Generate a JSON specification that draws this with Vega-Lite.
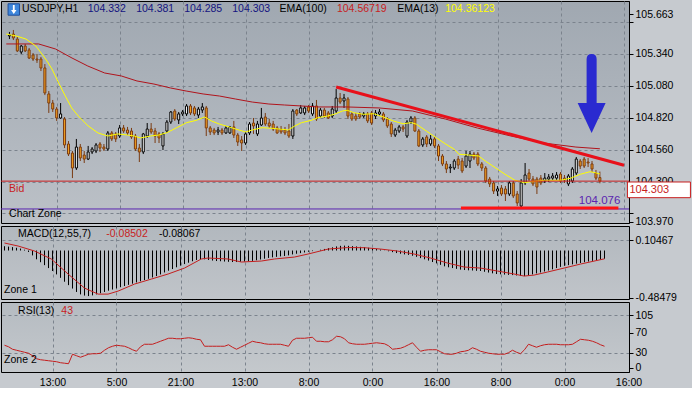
{
"$schema": "https://vega.github.io/schema/vega-lite/v6.json",
"background": "#c6cacf",
"padding": 0,
"spacing": 3,
"bounds": "flush",
"config": {
  "font": "Liberation Sans",
  "axis": {"labelFont": "Liberation Sans", "labelFontSize": 10.5, "labelColor": "#000000", "domainColor": "#000000", "tickColor": "#000000"},
  "text": {"font": "Liberation Sans", "fontSize": 10.5}
},
"datasets": {
"bars": [
{"i":0,"open":105.487,"high":105.520,"low":105.462,"close":105.495,"macd":0.044,"rsi":45},
{"i":1,"open":105.503,"high":105.536,"low":105.454,"close":105.471,"macd":0.040,"rsi":42},
{"i":2,"open":105.462,"high":105.479,"low":105.356,"close":105.365,"macd":0.035,"rsi":37},
{"i":3,"open":105.356,"high":105.413,"low":105.340,"close":105.405,"macd":0.028,"rsi":35},
{"i":4,"open":105.405,"high":105.422,"low":105.356,"close":105.365,"macd":0.020,"rsi":33},
{"i":5,"open":105.373,"high":105.389,"low":105.299,"close":105.307,"macd":0.008,"rsi":31},
{"i":6,"open":105.332,"high":105.348,"low":105.283,"close":105.299,"macd":-0.015,"rsi":29},
{"i":7,"open":105.299,"high":105.340,"low":105.267,"close":105.291,"macd":-0.05,"rsi":24},
{"i":8,"open":105.299,"high":105.316,"low":105.201,"close":105.226,"macd":-0.09,"rsi":18},
{"i":9,"open":105.226,"high":105.258,"low":105.005,"close":105.022,"macd":-0.12,"rsi":16},
{"i":10,"open":105.014,"high":105.038,"low":104.859,"close":104.940,"macd":-0.15,"rsi":15},
{"i":11,"open":104.940,"high":104.965,"low":104.867,"close":104.891,"macd":-0.18,"rsi":14},
{"i":12,"open":104.891,"high":104.908,"low":104.794,"close":104.818,"macd":-0.21,"rsi":13},
{"i":13,"open":104.818,"high":104.940,"low":104.810,"close":104.851,"macd":-0.245,"rsi":12},
{"i":14,"open":104.810,"high":104.826,"low":104.573,"close":104.598,"macd":-0.28,"rsi":10},
{"i":15,"open":104.606,"high":104.630,"low":104.508,"close":104.524,"macd":-0.32,"rsi":9},
{"i":16,"open":104.532,"high":104.549,"low":104.328,"close":104.410,"macd":-0.355,"rsi":8},
{"i":17,"open":104.410,"high":104.647,"low":104.394,"close":104.581,"macd":-0.39,"rsi":27},
{"i":18,"open":104.581,"high":104.606,"low":104.467,"close":104.492,"macd":-0.425,"rsi":24},
{"i":19,"open":104.516,"high":104.549,"low":104.451,"close":104.483,"macd":-0.45,"rsi":21},
{"i":20,"open":104.483,"high":104.590,"low":104.475,"close":104.541,"macd":-0.462,"rsi":24},
{"i":21,"open":104.541,"high":104.581,"low":104.524,"close":104.565,"macd":-0.467,"rsi":27},
{"i":22,"open":104.549,"high":104.614,"low":104.532,"close":104.598,"macd":-0.46,"rsi":28},
{"i":23,"open":104.606,"high":104.622,"low":104.541,"close":104.573,"macd":-0.45,"rsi":28},
{"i":24,"open":104.581,"high":104.606,"low":104.549,"close":104.565,"macd":-0.438,"rsi":29},
{"i":25,"open":104.565,"high":104.712,"low":104.549,"close":104.696,"macd":-0.425,"rsi":35},
{"i":26,"open":104.696,"high":104.712,"low":104.630,"close":104.647,"macd":-0.412,"rsi":40},
{"i":27,"open":104.688,"high":104.704,"low":104.622,"close":104.647,"macd":-0.40,"rsi":43},
{"i":28,"open":104.671,"high":104.761,"low":104.655,"close":104.737,"macd":-0.388,"rsi":45},
{"i":29,"open":104.737,"high":104.761,"low":104.696,"close":104.712,"macd":-0.376,"rsi":44},
{"i":30,"open":104.720,"high":104.745,"low":104.679,"close":104.696,"macd":-0.364,"rsi":43},
{"i":31,"open":104.712,"high":104.737,"low":104.647,"close":104.663,"macd":-0.352,"rsi":40},
{"i":32,"open":104.671,"high":104.688,"low":104.549,"close":104.565,"macd":-0.34,"rsi":36},
{"i":33,"open":104.573,"high":104.606,"low":104.459,"close":104.541,"macd":-0.327,"rsi":33},
{"i":34,"open":104.541,"high":104.696,"low":104.524,"close":104.688,"macd":-0.315,"rsi":42},
{"i":35,"open":104.671,"high":104.777,"low":104.655,"close":104.728,"macd":-0.303,"rsi":47},
{"i":36,"open":104.728,"high":104.777,"low":104.688,"close":104.704,"macd":-0.29,"rsi":47},
{"i":37,"open":104.712,"high":104.737,"low":104.614,"close":104.671,"macd":-0.276,"rsi":47},
{"i":38,"open":104.688,"high":104.704,"low":104.614,"close":104.655,"macd":-0.262,"rsi":50},
{"i":39,"open":104.590,"high":104.704,"low":104.557,"close":104.688,"macd":-0.245,"rsi":53},
{"i":40,"open":104.712,"high":104.802,"low":104.696,"close":104.785,"macd":-0.225,"rsi":56},
{"i":41,"open":104.785,"high":104.875,"low":104.769,"close":104.867,"macd":-0.207,"rsi":59},
{"i":42,"open":104.875,"high":104.891,"low":104.794,"close":104.810,"macd":-0.19,"rsi":59},
{"i":43,"open":104.802,"high":104.867,"low":104.769,"close":104.851,"macd":-0.172,"rsi":58},
{"i":44,"open":104.851,"high":104.883,"low":104.834,"close":104.867,"macd":-0.155,"rsi":58},
{"i":45,"open":104.851,"high":104.932,"low":104.834,"close":104.916,"macd":-0.139,"rsi":59},
{"i":46,"open":104.916,"high":104.932,"low":104.842,"close":104.859,"macd":-0.125,"rsi":60},
{"i":47,"open":104.900,"high":104.916,"low":104.834,"close":104.851,"macd":-0.11,"rsi":59},
{"i":48,"open":104.842,"high":104.908,"low":104.818,"close":104.891,"macd":-0.097,"rsi":57},
{"i":49,"open":104.883,"high":104.940,"low":104.859,"close":104.908,"macd":-0.088,"rsi":56},
{"i":50,"open":104.900,"high":104.916,"low":104.671,"close":104.737,"macd":-0.09,"rsi":43},
{"i":51,"open":104.737,"high":104.753,"low":104.679,"close":104.704,"macd":-0.097,"rsi":43},
{"i":52,"open":104.720,"high":104.737,"low":104.679,"close":104.696,"macd":-0.103,"rsi":43},
{"i":53,"open":104.704,"high":104.745,"low":104.679,"close":104.720,"macd":-0.108,"rsi":43},
{"i":54,"open":104.720,"high":104.737,"low":104.679,"close":104.696,"macd":-0.11,"rsi":43},
{"i":55,"open":104.696,"high":104.753,"low":104.688,"close":104.737,"macd":-0.113,"rsi":43},
{"i":56,"open":104.696,"high":104.753,"low":104.688,"close":104.745,"macd":-0.116,"rsi":46},
{"i":57,"open":104.745,"high":104.794,"low":104.655,"close":104.679,"macd":-0.118,"rsi":41},
{"i":58,"open":104.679,"high":104.696,"low":104.590,"close":104.622,"macd":-0.118,"rsi":37},
{"i":59,"open":104.639,"high":104.671,"low":104.549,"close":104.614,"macd":-0.116,"rsi":41},
{"i":60,"open":104.614,"high":104.704,"low":104.598,"close":104.688,"macd":-0.113,"rsi":45},
{"i":61,"open":104.696,"high":104.785,"low":104.679,"close":104.769,"macd":-0.11,"rsi":49},
{"i":62,"open":104.777,"high":104.818,"low":104.688,"close":104.753,"macd":-0.106,"rsi":53},
{"i":63,"open":104.688,"high":104.794,"low":104.671,"close":104.769,"macd":-0.1,"rsi":51},
{"i":64,"open":104.761,"high":104.900,"low":104.753,"close":104.818,"macd":-0.092,"rsi":50},
{"i":65,"open":104.826,"high":104.859,"low":104.753,"close":104.769,"macd":-0.084,"rsi":48},
{"i":66,"open":104.777,"high":104.810,"low":104.737,"close":104.753,"macd":-0.076,"rsi":47},
{"i":67,"open":104.769,"high":104.794,"low":104.712,"close":104.728,"macd":-0.07,"rsi":47},
{"i":68,"open":104.737,"high":104.753,"low":104.688,"close":104.696,"macd":-0.065,"rsi":47},
{"i":69,"open":104.728,"high":104.753,"low":104.688,"close":104.704,"macd":-0.06,"rsi":47},
{"i":70,"open":104.720,"high":104.745,"low":104.679,"close":104.696,"macd":-0.056,"rsi":45},
{"i":71,"open":104.712,"high":104.769,"low":104.655,"close":104.671,"macd":-0.05,"rsi":43},
{"i":72,"open":104.671,"high":104.891,"low":104.647,"close":104.875,"macd":-0.04,"rsi":55},
{"i":73,"open":104.883,"high":104.891,"low":104.834,"close":104.851,"macd":-0.033,"rsi":59},
{"i":74,"open":104.859,"high":104.924,"low":104.851,"close":104.900,"macd":-0.027,"rsi":59},
{"i":75,"open":104.859,"high":104.916,"low":104.842,"close":104.900,"macd":-0.02,"rsi":59},
{"i":76,"open":104.908,"high":104.924,"low":104.859,"close":104.875,"macd":-0.013,"rsi":60},
{"i":77,"open":104.851,"high":104.940,"low":104.834,"close":104.916,"macd":-0.006,"rsi":61},
{"i":78,"open":104.916,"high":104.965,"low":104.794,"close":104.810,"macd":0.0,"rsi":53},
{"i":79,"open":104.834,"high":104.900,"low":104.818,"close":104.883,"macd":0.008,"rsi":53},
{"i":80,"open":104.883,"high":104.900,"low":104.818,"close":104.834,"macd":0.016,"rsi":52},
{"i":81,"open":104.859,"high":104.875,"low":104.810,"close":104.818,"macd":0.024,"rsi":52},
{"i":82,"open":104.834,"high":104.916,"low":104.818,"close":104.891,"macd":0.033,"rsi":56},
{"i":83,"open":104.875,"high":105.054,"low":104.859,"close":104.981,"macd":0.042,"rsi":63},
{"i":84,"open":104.981,"high":105.022,"low":104.932,"close":104.948,"macd":0.048,"rsi":62},
{"i":85,"open":104.957,"high":105.014,"low":104.900,"close":104.981,"macd":0.05,"rsi":58},
{"i":86,"open":104.973,"high":104.989,"low":104.810,"close":104.834,"macd":0.048,"rsi":50},
{"i":87,"open":104.851,"high":104.867,"low":104.794,"close":104.810,"macd":0.045,"rsi":48},
{"i":88,"open":104.834,"high":104.859,"low":104.794,"close":104.810,"macd":0.042,"rsi":47},
{"i":89,"open":104.851,"high":104.867,"low":104.810,"close":104.826,"macd":0.038,"rsi":47},
{"i":90,"open":104.834,"high":104.867,"low":104.818,"close":104.851,"macd":0.034,"rsi":47},
{"i":91,"open":104.851,"high":104.867,"low":104.777,"close":104.794,"macd":0.028,"rsi":48},
{"i":92,"open":104.859,"high":104.875,"low":104.761,"close":104.777,"macd":0.022,"rsi":49},
{"i":93,"open":104.834,"high":104.883,"low":104.810,"close":104.859,"macd":0.015,"rsi":50},
{"i":94,"open":104.851,"high":104.891,"low":104.834,"close":104.867,"macd":0.01,"rsi":49},
{"i":95,"open":104.851,"high":104.867,"low":104.785,"close":104.802,"macd":0.002,"rsi":48},
{"i":96,"open":104.810,"high":104.826,"low":104.737,"close":104.753,"macd":-0.008,"rsi":44},
{"i":97,"open":104.769,"high":104.785,"low":104.663,"close":104.688,"macd":-0.017,"rsi":37},
{"i":98,"open":104.679,"high":104.737,"low":104.663,"close":104.720,"macd":-0.026,"rsi":38},
{"i":99,"open":104.712,"high":104.761,"low":104.696,"close":104.745,"macd":-0.033,"rsi":39},
{"i":100,"open":104.745,"high":104.761,"low":104.704,"close":104.728,"macd":-0.04,"rsi":42},
{"i":101,"open":104.671,"high":104.802,"low":104.655,"close":104.785,"macd":-0.045,"rsi":46},
{"i":102,"open":104.785,"high":104.834,"low":104.769,"close":104.818,"macd":-0.054,"rsi":50},
{"i":103,"open":104.818,"high":104.834,"low":104.704,"close":104.712,"macd":-0.065,"rsi":41},
{"i":104,"open":104.712,"high":104.728,"low":104.581,"close":104.590,"macd":-0.078,"rsi":33},
{"i":105,"open":104.598,"high":104.663,"low":104.581,"close":104.647,"macd":-0.09,"rsi":35},
{"i":106,"open":104.663,"high":104.679,"low":104.581,"close":104.606,"macd":-0.103,"rsi":36},
{"i":107,"open":104.606,"high":104.679,"low":104.590,"close":104.647,"macd":-0.118,"rsi":36},
{"i":108,"open":104.647,"high":104.663,"low":104.573,"close":104.590,"macd":-0.132,"rsi":36},
{"i":109,"open":104.590,"high":104.606,"low":104.467,"close":104.508,"macd":-0.147,"rsi":32},
{"i":110,"open":104.508,"high":104.524,"low":104.426,"close":104.443,"macd":-0.162,"rsi":28},
{"i":111,"open":104.443,"high":104.467,"low":104.369,"close":104.402,"macd":-0.172,"rsi":27},
{"i":112,"open":104.410,"high":104.443,"low":104.369,"close":104.418,"macd":-0.18,"rsi":27},
{"i":113,"open":104.410,"high":104.483,"low":104.394,"close":104.467,"macd":-0.188,"rsi":29},
{"i":114,"open":104.483,"high":104.508,"low":104.402,"close":104.434,"macd":-0.196,"rsi":32},
{"i":115,"open":104.467,"high":104.492,"low":104.369,"close":104.386,"macd":-0.2,"rsi":33},
{"i":116,"open":104.426,"high":104.549,"low":104.410,"close":104.508,"macd":-0.203,"rsi":35},
{"i":117,"open":104.467,"high":104.549,"low":104.410,"close":104.524,"macd":-0.205,"rsi":40},
{"i":118,"open":104.524,"high":104.541,"low":104.475,"close":104.492,"macd":-0.208,"rsi":37},
{"i":119,"open":104.524,"high":104.541,"low":104.426,"close":104.443,"macd":-0.21,"rsi":33},
{"i":120,"open":104.443,"high":104.459,"low":104.386,"close":104.410,"macd":-0.218,"rsi":31},
{"i":121,"open":104.410,"high":104.426,"low":104.288,"close":104.304,"macd":-0.226,"rsi":29},
{"i":122,"open":104.320,"high":104.337,"low":104.255,"close":104.280,"macd":-0.234,"rsi":28},
{"i":123,"open":104.288,"high":104.304,"low":104.198,"close":104.222,"macd":-0.241,"rsi":27},
{"i":124,"open":104.222,"high":104.263,"low":104.182,"close":104.239,"macd":-0.244,"rsi":27},
{"i":125,"open":104.247,"high":104.271,"low":104.182,"close":104.198,"macd":-0.247,"rsi":27},
{"i":126,"open":104.239,"high":104.263,"low":104.141,"close":104.198,"macd":-0.25,"rsi":30},
{"i":127,"open":104.198,"high":104.304,"low":104.182,"close":104.288,"macd":-0.252,"rsi":35},
{"i":128,"open":104.288,"high":104.304,"low":104.165,"close":104.182,"macd":-0.256,"rsi":31},
{"i":129,"open":104.198,"high":104.222,"low":104.100,"close":104.125,"macd":-0.26,"rsi":28},
{"i":130,"open":104.100,"high":104.320,"low":104.076,"close":104.288,"macd":-0.262,"rsi":36},
{"i":131,"open":104.288,"high":104.451,"low":104.271,"close":104.353,"macd":-0.255,"rsi":47},
{"i":132,"open":104.369,"high":104.402,"low":104.304,"close":104.320,"macd":-0.245,"rsi":44},
{"i":133,"open":104.320,"high":104.345,"low":104.263,"close":104.280,"macd":-0.235,"rsi":41},
{"i":134,"open":104.320,"high":104.337,"low":104.198,"close":104.255,"macd":-0.225,"rsi":44},
{"i":135,"open":104.328,"high":104.353,"low":104.271,"close":104.288,"macd":-0.215,"rsi":46},
{"i":136,"open":104.304,"high":104.369,"low":104.288,"close":104.328,"macd":-0.205,"rsi":47},
{"i":137,"open":104.320,"high":104.361,"low":104.296,"close":104.337,"macd":-0.193,"rsi":47},
{"i":138,"open":104.328,"high":104.369,"low":104.312,"close":104.345,"macd":-0.18,"rsi":47},
{"i":139,"open":104.328,"high":104.377,"low":104.312,"close":104.353,"macd":-0.168,"rsi":46},
{"i":140,"open":104.361,"high":104.377,"low":104.288,"close":104.304,"macd":-0.157,"rsi":46},
{"i":141,"open":104.328,"high":104.353,"low":104.288,"close":104.312,"macd":-0.15,"rsi":46},
{"i":142,"open":104.280,"high":104.361,"low":104.263,"close":104.345,"macd":-0.142,"rsi":47},
{"i":143,"open":104.304,"high":104.418,"low":104.288,"close":104.402,"macd":-0.135,"rsi":52},
{"i":144,"open":104.369,"high":104.500,"low":104.353,"close":104.483,"macd":-0.128,"rsi":57},
{"i":145,"open":104.467,"high":104.483,"low":104.402,"close":104.426,"macd":-0.12,"rsi":56},
{"i":146,"open":104.483,"high":104.500,"low":104.410,"close":104.426,"macd":-0.113,"rsi":55},
{"i":147,"open":104.459,"high":104.492,"low":104.418,"close":104.451,"macd":-0.106,"rsi":53},
{"i":148,"open":104.443,"high":104.467,"low":104.377,"close":104.402,"macd":-0.099,"rsi":50},
{"i":149,"open":104.369,"high":104.394,"low":104.312,"close":104.328,"macd":-0.092,"rsi":46},
{"i":150,"open":104.332,"high":104.381,"low":104.285,"close":104.303,"macd":-0.085,"rsi":43}
],
"ema100": [
{"i":-0.8,"v":105.422},{"i":7.4,"v":105.422},{"i":11.7,"v":105.381},{"i":15.9,"v":105.307},{"i":19.9,"v":105.242},{"i":24.2,"v":105.185},{"i":28.4,"v":105.161},{"i":32.4,"v":105.120},{"i":36.7,"v":105.095},{"i":40.9,"v":105.063},{"i":44.9,"v":105.038},{"i":49.2,"v":105.014},{"i":53.4,"v":104.997},{"i":57.4,"v":104.973},{"i":61.7,"v":104.948},{"i":65.9,"v":104.932},{"i":69.9,"v":104.924},{"i":74.2,"v":104.916},{"i":78.4,"v":104.908},{"i":85.7,"v":104.908},{"i":93.9,"v":104.900},{"i":102.4,"v":104.875},{"i":110.7,"v":104.810},{"i":118.9,"v":104.736},{"i":127.4,"v":104.671},{"i":135.7,"v":104.614},{"i":143.9,"v":104.581},{"i":150,"v":104.567}
],
"ema13": [
{"i":-0.8,"v":105.503},{"i":1.7,"v":105.487},{"i":4.2,"v":105.462},{"i":6.7,"v":105.405},{"i":9.2,"v":105.299},{"i":10.8,"v":105.218},{"i":12.5,"v":105.104},{"i":14.2,"v":104.997},{"i":15.8,"v":104.900},{"i":17.5,"v":104.834},{"i":20,"v":104.753},{"i":22.5,"v":104.696},{"i":25,"v":104.671},{"i":27.5,"v":104.688},{"i":30,"v":104.679},{"i":31.7,"v":104.671},{"i":33.3,"v":104.655},{"i":35.8,"v":104.671},{"i":37.9,"v":104.679},{"i":40,"v":104.698},{"i":42.5,"v":104.739},{"i":45,"v":104.780},{"i":47.5,"v":104.799},{"i":49.6,"v":104.826},{"i":51.3,"v":104.794},{"i":53.3,"v":104.769},{"i":55.8,"v":104.745},{"i":58.3,"v":104.720},{"i":60,"v":104.704},{"i":61.7,"v":104.720},{"i":64.2,"v":104.739},{"i":66.7,"v":104.734},{"i":69.2,"v":104.726},{"i":70.8,"v":104.720},{"i":72.5,"v":104.753},{"i":74.2,"v":104.780},{"i":76.7,"v":104.799},{"i":78.3,"v":104.820},{"i":80.8,"v":104.834},{"i":82.5,"v":104.848},{"i":84.6,"v":104.875},{"i":85.8,"v":104.881},{"i":87.5,"v":104.861},{"i":90,"v":104.848},{"i":92.5,"v":104.853},{"i":95,"v":104.826},{"i":97.5,"v":104.794},{"i":100,"v":104.771},{"i":102.1,"v":104.780},{"i":103.4,"v":104.767},{"i":105.9,"v":104.712},{"i":108.4,"v":104.657},{"i":110.9,"v":104.604},{"i":113,"v":104.563},{"i":114.2,"v":104.522},{"i":116.7,"v":104.516},{"i":119.2,"v":104.508},{"i":120.9,"v":104.467},{"i":123.4,"v":104.413},{"i":125.9,"v":104.359},{"i":128.4,"v":104.310},{"i":130.9,"v":104.290},{"i":132.5,"v":104.298},{"i":135.9,"v":104.310},{"i":140,"v":104.310},{"i":142.5,"v":104.326},{"i":145,"v":104.359},{"i":147.5,"v":104.380},{"i":148.8,"v":104.372},{"i":150,"v":104.361}
],
"signal": [
{"i":0,"v":0.077},{"i":3.4,"v":0.046},{"i":7.5,"v":-0.005},{"i":11.7,"v":-0.087},{"i":15.9,"v":-0.241},{"i":20,"v":-0.385},{"i":23.4,"v":-0.447},{"i":25.9,"v":-0.447},{"i":28.4,"v":-0.416},{"i":32.5,"v":-0.344},{"i":36.7,"v":-0.293},{"i":40.9,"v":-0.241},{"i":45,"v":-0.18},{"i":49.2,"v":-0.087},{"i":50.9,"v":-0.077},{"i":55.9,"v":-0.087},{"i":59.2,"v":-0.118},{"i":64.2,"v":-0.108},{"i":67.5,"v":-0.087},{"i":72.5,"v":-0.067},{"i":75.9,"v":-0.036},{"i":80.9,"v":0.015},{"i":85.7,"v":0.03},{"i":89.9,"v":0.029},{"i":94,"v":0.015},{"i":98.2,"v":-0.005},{"i":102.4,"v":-0.036},{"i":106.5,"v":-0.077},{"i":110.7,"v":-0.128},{"i":114.9,"v":-0.169},{"i":119,"v":-0.18},{"i":123.2,"v":-0.21},{"i":127.4,"v":-0.241},{"i":129.9,"v":-0.262},{"i":132.4,"v":-0.252},{"i":135.7,"v":-0.221},{"i":139.9,"v":-0.18},{"i":144,"v":-0.139},{"i":150,"v":-0.085}
],
"trend": [{"i":83,"v":105.071},{"i":156.125,"v":104.433}],
"support": [{"i":114.7,"v":104.084},{"i":154.7,"v":104.084}]
},
"vconcat": [
{
  "width": 628, "height": 222,
  "view": {"fill": {"gradient": "linear", "x1": 0, "y1": 0, "x2": 0, "y2": 1, "stops": [{"offset": 0, "color": "#a0a8b1"}, {"offset": 1, "color": "#bcc1c7"}]}, "stroke": "#000000", "strokeWidth": 1},
  "resolve": {"axis": {"x": "independent", "y": "independent"}},
  "layer": [
    {
      "data": {"name": "bars"},
      "mark": {"type": "rule", "strokeWidth": 1},
      "encoding": {
        "x": {"field": "i", "type": "quantitative", "scale": {"domain": [-0.875, 156.125], "nice": false, "zero": false},
              "axis": {"values": [12,28,44,60,76,92,108,124,140,156], "labels": false, "ticks": false, "domain": false, "grid": true, "gridColor": "#7b838d", "gridDash": [3,3], "title": null}},
        "y": {"field": "low", "type": "quantitative", "scale": {"domain": [103.9615, 105.7723], "nice": false, "zero": false},
              "axis": {"orient": "right", "title": null, "values": [103.97, 104.04, 104.3, 104.56, 104.82, 105.08, 105.34, 105.6, 105.663],
                       "labelExpr": "datum.value < 104 ? '103.970' : datum.value > 105.65 ? '105.663' : (abs(datum.value - 104.04) < 0.001 || abs(datum.value - 105.6) < 0.001) ? '' : format(datum.value, '.3f')",
                       "grid": true, "gridColor": "#7b838d", "gridDash": [3,3],
                       "gridOpacity": {"condition": {"test": "datum.value < 104 || datum.value > 105.65", "value": 0}, "value": 1},
                       "tickSize": 4, "labelPadding": 2, "labelOverlap": false, "labelBound": false, "labelFlush": false}},
        "y2": {"field": "high"},
        "stroke": {"condition": {"test": "datum.close >= datum.open", "value": "#000000"}, "value": "#7a3b12"}
      }
    },
    {
      "data": {"name": "bars"},
      "mark": {"type": "bar", "size": 2, "strokeWidth": 1},
      "encoding": {
        "x": {"field": "i", "type": "quantitative", "axis": null},
        "y": {"field": "open", "type": "quantitative", "axis": null},
        "y2": {"field": "close"},
        "fill": {"condition": {"test": "datum.close >= datum.open", "value": "#ffffff"}, "value": "#f2a020"},
        "stroke": {"condition": {"test": "datum.close >= datum.open", "value": "#000000"}, "value": "#7a3b12"}
      }
    },
    {
      "data": {"name": "ema100"},
      "mark": {"type": "line", "color": "#b0141c", "strokeWidth": 1},
      "encoding": {"x": {"field": "i", "type": "quantitative", "axis": null}, "y": {"field": "v", "type": "quantitative", "axis": null}}
    },
    {
      "data": {"name": "ema13"},
      "mark": {"type": "line", "color": "#ffff00", "strokeWidth": 1},
      "encoding": {"x": {"field": "i", "type": "quantitative", "axis": null}, "y": {"field": "v", "type": "quantitative", "axis": null}}
    },
    {
      "data": {"values": [{}]},
      "mark": {"type": "rule", "color": "#c81e1e", "strokeWidth": 1},
      "encoding": {"y": {"datum": 104.303, "type": "quantitative", "axis": null}}
    },
    {
      "data": {"values": [{}]},
      "mark": {"type": "rule", "color": "#5b25b0", "strokeWidth": 1},
      "encoding": {"y": {"datum": 104.076, "type": "quantitative", "axis": null}}
    },
    {
      "data": {"name": "support"},
      "mark": {"type": "line", "color": "#ff1414", "strokeWidth": 3},
      "encoding": {"x": {"field": "i", "type": "quantitative", "axis": null}, "y": {"field": "v", "type": "quantitative", "axis": null}}
    },
    {
      "data": {"name": "trend"},
      "mark": {"type": "line", "color": "#e8101a", "strokeWidth": 3},
      "encoding": {"x": {"field": "i", "type": "quantitative", "axis": null}, "y": {"field": "v", "type": "quantitative", "axis": null}}
    },
    {
      "data": {"values": [{}]},
      "mark": {"type": "point", "filled": true, "color": "#2a2ad0", "opacity": 1, "size": 6241,
               "shape": "M-0.127,0.24 L-0.127,-0.87 Q-0.127,-1 0,-1 Q0.127,-1 0.127,-0.87 L0.127,0.24 L0.354,0.24 L0,1 L-0.354,0.24 Z"},
      "encoding": {"x": {"datum": 147.9, "type": "quantitative", "axis": null}, "y": {"datum": 105.018, "type": "quantitative", "axis": null}}
    },
    {
      "data": {"values": [{}]},
      "mark": {"type": "point", "filled": true, "shape": "square", "size": 130, "color": "#3d86dc", "opacity": 1, "stroke": "#1f4f9a", "strokeWidth": 1},
      "encoding": {"x": {"datum": 1.1, "type": "quantitative", "axis": null}, "y": {"datum": 105.703, "type": "quantitative", "axis": null}}
    },
    {
      "data": {"values": [{}]},
      "mark": {"type": "point", "filled": true, "color": "#ffffff", "opacity": 1, "size": 80,
               "shape": "M-0.2,0.1 L-0.2,-1 L0.2,-1 L0.2,0.1 L0.6,0.1 L0,1 L-0.6,0.1 Z"},
      "encoding": {"x": {"datum": 1.1, "type": "quantitative", "axis": null}, "y": {"datum": 105.703, "type": "quantitative", "axis": null}}
    },
    {
      "data": {"values": [{}]},
      "mark": {"type": "text", "align": "left", "baseline": "middle", "color": "#000000", "text": "USDJPY,H1"},
      "encoding": {"x": {"datum": 3.2, "type": "quantitative", "axis": null}, "y": {"datum": 105.703, "type": "quantitative", "axis": null}}
    },
    {
      "data": {"values": [{}]},
      "mark": {"type": "text", "align": "left", "baseline": "middle", "color": "#141480", "text": "104.332"},
      "encoding": {"x": {"datum": 19.9, "type": "quantitative", "axis": null}, "y": {"datum": 105.703, "type": "quantitative", "axis": null}}
    },
    {
      "data": {"values": [{}]},
      "mark": {"type": "text", "align": "left", "baseline": "middle", "color": "#141480", "text": "104.381"},
      "encoding": {"x": {"datum": 32.2, "type": "quantitative", "axis": null}, "y": {"datum": 105.703, "type": "quantitative", "axis": null}}
    },
    {
      "data": {"values": [{}]},
      "mark": {"type": "text", "align": "left", "baseline": "middle", "color": "#141480", "text": "104.285"},
      "encoding": {"x": {"datum": 44.4, "type": "quantitative", "axis": null}, "y": {"datum": 105.703, "type": "quantitative", "axis": null}}
    },
    {
      "data": {"values": [{}]},
      "mark": {"type": "text", "align": "left", "baseline": "middle", "color": "#141480", "text": "104.303"},
      "encoding": {"x": {"datum": 56.6, "type": "quantitative", "axis": null}, "y": {"datum": 105.703, "type": "quantitative", "axis": null}}
    },
    {
      "data": {"values": [{}]},
      "mark": {"type": "text", "align": "left", "baseline": "middle", "color": "#000000", "text": "EMA(100)"},
      "encoding": {"x": {"datum": 68.6, "type": "quantitative", "axis": null}, "y": {"datum": 105.703, "type": "quantitative", "axis": null}}
    },
    {
      "data": {"values": [{}]},
      "mark": {"type": "text", "align": "left", "baseline": "middle", "color": "#c81e1e", "text": "104.56719"},
      "encoding": {"x": {"datum": 83.2, "type": "quantitative", "axis": null}, "y": {"datum": 105.703, "type": "quantitative", "axis": null}}
    },
    {
      "data": {"values": [{}]},
      "mark": {"type": "text", "align": "left", "baseline": "middle", "color": "#000000", "text": "EMA(13)"},
      "encoding": {"x": {"datum": 98.5, "type": "quantitative", "axis": null}, "y": {"datum": 105.703, "type": "quantitative", "axis": null}}
    },
    {
      "data": {"values": [{}]},
      "mark": {"type": "text", "align": "left", "baseline": "middle", "color": "#ffff00", "text": "104.36123"},
      "encoding": {"x": {"datum": 110.7, "type": "quantitative", "axis": null}, "y": {"datum": 105.703, "type": "quantitative", "axis": null}}
    },
    {
      "data": {"values": [{}]},
      "mark": {"type": "text", "align": "left", "baseline": "middle", "color": "#c81e1e", "text": "Bid"},
      "encoding": {"x": {"datum": -0.1, "type": "quantitative", "axis": null}, "y": {"datum": 104.239, "type": "quantitative", "axis": null}}
    },
    {
      "data": {"values": [{}]},
      "mark": {"type": "text", "align": "left", "baseline": "middle", "color": "#000000", "text": "Chart Zone"},
      "encoding": {"x": {"datum": -0.1, "type": "quantitative", "axis": null}, "y": {"datum": 104.035, "type": "quantitative", "axis": null}}
    },
    {
      "data": {"values": [{}]},
      "mark": {"type": "text", "align": "right", "baseline": "middle", "color": "#5b25b0", "fontSize": 11.5, "text": "104.076"},
      "encoding": {"x": {"datum": 155.2, "type": "quantitative", "axis": null}, "y": {"datum": 104.141, "type": "quantitative", "axis": null}}
    },
    {
      "data": {"values": [{}]},
      "mark": {"type": "rect", "fill": "#ffffff", "stroke": "#c81e1e", "strokeWidth": 1},
      "encoding": {"x": {"datum": 157.0, "type": "quantitative", "axis": null}, "x2": {"datum": 173.0},
                   "y": {"datum": 104.296, "type": "quantitative", "axis": null}, "y2": {"datum": 104.168}}
    },
    {
      "data": {"values": [{}]},
      "mark": {"type": "text", "align": "left", "baseline": "middle", "color": "#c81e1e", "fontSize": 11, "text": "104.303"},
      "encoding": {"x": {"datum": 157.5, "type": "quantitative", "axis": null}, "y": {"datum": 104.231, "type": "quantitative", "axis": null}}
    }
  ]
},
{
  "width": 628, "height": 73,
  "view": {"fill": {"gradient": "linear", "x1": 0, "y1": 0, "x2": 0, "y2": 1, "stops": [{"offset": 0, "color": "#b2b8be"}, {"offset": 1, "color": "#c0c4c9"}]}, "stroke": "#000000", "strokeWidth": 1},
  "resolve": {"axis": {"x": "independent", "y": "independent"}},
  "layer": [
    {
      "data": {"name": "bars"},
      "mark": {"type": "rule", "color": "#000000", "strokeWidth": 1},
      "encoding": {
        "x": {"field": "i", "type": "quantitative", "scale": {"domain": [-0.875, 156.125], "nice": false, "zero": false},
              "axis": {"values": [12,28,44,60,76,92,108,124,140,156], "labels": false, "ticks": false, "domain": false, "grid": true, "gridColor": "#7b838d", "gridDash": [3,3], "title": null}},
        "y": {"field": "macd", "type": "quantitative", "scale": {"domain": [-0.4971, 0.2513], "nice": false, "zero": false},
              "axis": {"orient": "right", "title": null, "values": [-0.48479, 0.10467],
                       "labelExpr": "datum.value < 0 ? '-0.48479' : '0.10467'",
                       "grid": true, "gridColor": "#7b838d", "gridDash": [3,3],
                       "gridOpacity": {"condition": {"test": "datum.value < 0", "value": 0}, "value": 1},
                       "tickSize": 4, "labelPadding": 2, "labelOverlap": false, "labelBound": false, "labelFlush": false}},
        "y2": {"datum": 0}
      }
    },
    {
      "data": {"name": "signal"},
      "mark": {"type": "line", "color": "#c41e1e", "strokeWidth": 1},
      "encoding": {"x": {"field": "i", "type": "quantitative", "axis": null}, "y": {"field": "v", "type": "quantitative", "axis": null}}
    },
    {
      "data": {"values": [{}]},
      "mark": {"type": "text", "align": "left", "baseline": "middle", "color": "#000000", "text": "MACD(12,55,7)"},
      "encoding": {"x": {"datum": 3.4, "type": "quantitative", "axis": null}, "y": {"datum": 0.166, "type": "quantitative", "axis": null}}
    },
    {
      "data": {"values": [{}]},
      "mark": {"type": "text", "align": "left", "baseline": "middle", "color": "#c81e1e", "text": "-0.08502"},
      "encoding": {"x": {"datum": 25.45, "type": "quantitative", "axis": null}, "y": {"datum": 0.166, "type": "quantitative", "axis": null}}
    },
    {
      "data": {"values": [{}]},
      "mark": {"type": "text", "align": "left", "baseline": "middle", "color": "#000000", "text": "-0.08067"},
      "encoding": {"x": {"datum": 38.6, "type": "quantitative", "axis": null}, "y": {"datum": 0.166, "type": "quantitative", "axis": null}}
    },
    {
      "data": {"values": [{}]},
      "mark": {"type": "text", "align": "left", "baseline": "middle", "color": "#000000", "text": "Zone 1"},
      "encoding": {"x": {"datum": -0.1, "type": "quantitative", "axis": null}, "y": {"datum": -0.402, "type": "quantitative", "axis": null}}
    }
  ]
},
{
  "width": 628, "height": 70,
  "view": {"fill": {"gradient": "linear", "x1": 0, "y1": 0, "x2": 0, "y2": 1, "stops": [{"offset": 0, "color": "#b5bbc1"}, {"offset": 1, "color": "#c4c8cc"}]}, "stroke": "#000000", "strokeWidth": 1},
  "resolve": {"axis": {"x": "independent", "y": "independent"}},
  "layer": [
    {
      "data": {"name": "bars"},
      "mark": {"type": "line", "color": "#c41e1e", "strokeWidth": 1},
      "encoding": {
        "x": {"field": "i", "type": "quantitative", "scale": {"domain": [-0.875, 156.125], "nice": false, "zero": false},
              "axis": {"values": [12,28,44,60,76,92,108,124,140,156], "labels": true, "ticks": false, "domain": false, "grid": true, "gridColor": "#7b838d", "gridDash": [3,3], "title": null,
                       "labelExpr": "['13:00','5:00','21:00','13:00','8:00','0:00','16:00','8:00','0:00','16:00'][round((datum.value - 12) / 16)]",
                       "labelPadding": 5, "labelFlush": false, "labelOverlap": false, "labelBound": false}},
        "y": {"field": "rsi", "type": "quantitative", "scale": {"domain": [-8.6, 131.65], "nice": false, "zero": false},
              "axis": {"orient": "right", "title": null, "values": [0, 30, 70, 105],
                       "grid": true, "gridColor": "#7b838d", "gridDash": [3,3],
                       "gridOpacity": {"condition": {"test": "datum.value == 0 || datum.value == 70", "value": 0}, "value": 1},
                       "tickSize": 4, "labelPadding": 2, "labelOverlap": false, "labelBound": false, "labelFlush": false}}
      }
    },
    {
      "data": {"values": [{}]},
      "mark": {"type": "text", "align": "left", "baseline": "middle", "color": "#000000", "text": "RSI(13)"},
      "encoding": {"x": {"datum": 3.4, "type": "quantitative", "axis": null}, "y": {"datum": 114.6, "type": "quantitative", "axis": null}}
    },
    {
      "data": {"values": [{}]},
      "mark": {"type": "text", "align": "left", "baseline": "middle", "color": "#c81e1e", "text": "43"},
      "encoding": {"x": {"datum": 14.2, "type": "quantitative", "axis": null}, "y": {"datum": 114.6, "type": "quantitative", "axis": null}}
    },
    {
      "data": {"values": [{}]},
      "mark": {"type": "text", "align": "left", "baseline": "middle", "color": "#000000", "text": "Zone 2"},
      "encoding": {"x": {"datum": -0.1, "type": "quantitative", "axis": null}, "y": {"datum": 16.4, "type": "quantitative", "axis": null}}
    }
  ]
}
]
}
